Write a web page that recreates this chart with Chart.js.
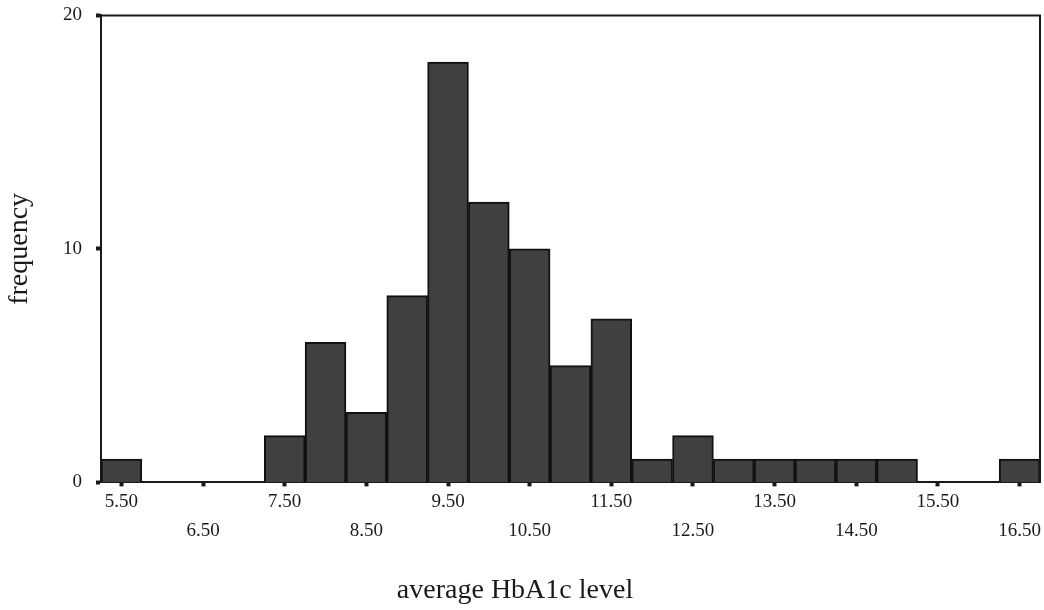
<!DOCTYPE html>
<html>
<head>
<meta charset="utf-8">
<script src="https://cdn.jsdelivr.net/npm/chart.js@4.4.1/dist/chart.umd.min.js"></script>
<style>
  html, body { margin: 0; padding: 0; background: #ffffff; }
  #wrap { width: 1044px; height: 610px; position: relative; }
</style>
</head>
<body>
<div id="wrap"><canvas id="c"></canvas></div>
<script>
// Bin centres (HbA1c, bin width 0.5)
const categories = ['5.50','6.00','6.50','7.00','7.50','8.00','8.50','9.00','9.50','10.00','10.50','11.00',
                    '11.50','12.00','12.50','13.00','13.50','14.00','14.50','15.00','15.50','16.00','16.50'];
// Frequencies per bin
const frequencies = [1,0,0,0,2,6,3,8,18,12,10,5,7,1,2,1,1,1,1,1,0,0,1];
// Y axis tick values
const yTicks = [0, 10, 20];
const xTitle = 'average HbA1c level';
const yTitle = 'frequency';

const serif = "'Liberation Serif', 'DejaVu Serif', serif";
const ink = '#1a1a1a';

const framePlugin = {
  id: 'frame',
  afterDatasetsDraw(chart) {
    const a = chart.chartArea, ctx = chart.ctx;
    ctx.save();
    ctx.strokeStyle = ink;
    ctx.lineWidth = 2;
    ctx.beginPath();
    ctx.moveTo(a.left, a.top);
    ctx.lineTo(a.right, a.top);
    ctx.lineTo(a.right, a.bottom);
    ctx.stroke();
    ctx.restore();
  }
};

new Chart(document.getElementById('c'), {
  type: 'bar',
  data: {
    labels: categories,
    datasets: [{
      data: frequencies,
      backgroundColor: '#404040',
      borderColor: '#111111',
      borderWidth: 2,
      barPercentage: 1.0,
      categoryPercentage: 1.0
    }]
  },
  options: {
    responsive: true,
    maintainAspectRatio: false,
    animation: false,
    layout: { padding: { left: -10, right: 4, top: 0, bottom: 0 } },
    plugins: {
      legend: { display: false },
      tooltip: { enabled: false },
      title: {
        display: true,
        position: 'bottom',
        text: xTitle,
        color: ink,
        font: { family: serif, size: 28, weight: 'normal', lineHeight: 1.2 },
        padding: { top: 0, bottom: 3 }
      }
    },
    scales: {
      x: {
        type: 'category',
        offset: true,
        afterFit: (scale) => { scale.height = 91; },
        grid: {
          offset: false,
          drawOnChartArea: false,
          drawTicks: true,
          tickLength: 4,
          tickWidth: 4,
          tickColor: (ctx) => (ctx.index % 2 === 0 ? ink : 'rgba(0,0,0,0)')
        },
        border: { display: true, color: ink, width: 2 },
        ticks: {
          autoSkip: false,
          maxRotation: 0,
          minRotation: 0,
          padding: 1,
          color: ink,
          font: { family: serif, size: 19, lineHeight: 1.53 },
          callback: function (val, i) {
            if (i % 2 !== 0) return '';
            const lab = categories[i];
            return (i / 2) % 2 === 0 ? [lab, ''] : ['', lab];
          }
        }
      },
      y: {
        min: yTicks[0],
        max: yTicks[yTicks.length - 1],
        afterBuildTicks: (scale) => { scale.ticks = yTicks.map(v => ({ value: v })); },
        afterFit: (scale) => { scale.width = 111; },
        grid: {
          drawOnChartArea: false,
          drawTicks: true,
          tickLength: 15,
          tickWidth: 4,
          tickColor: ink,
          tickBorderDash: [5, 10],
          tickBorderDashOffset: 5
        },
        border: { display: true, color: ink, width: 2 },
        ticks: {
          padding: 4,
          color: ink,
          font: { family: serif, size: 19 }
        },
        title: {
          display: true,
          text: yTitle,
          color: ink,
          font: { family: serif, size: 28, weight: 'normal', lineHeight: 1.2 },
          padding: { top: 13, bottom: 0 }
        }
      }
    }
  },
  plugins: [framePlugin]
});
</script>
</body>
</html>
